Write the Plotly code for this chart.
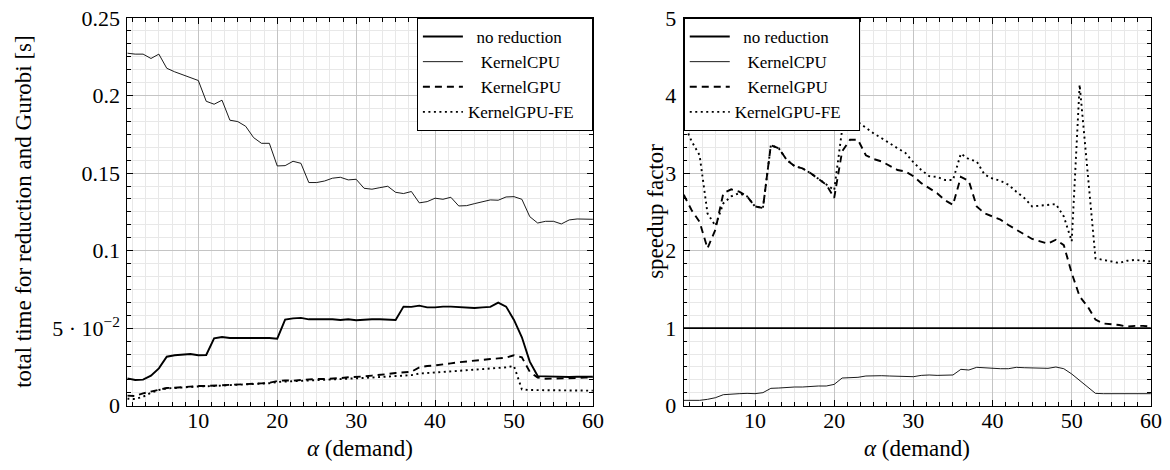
import plotly.graph_objects as go

# ---------------- data ----------------
alpha = list(range(1, 61))

time_no_reduction = [0.0176, 0.0166, 0.0168, 0.0194, 0.0241, 0.0316, 0.0325, 0.0331, 0.0333, 0.0325,
                     0.0327, 0.0434, 0.0443, 0.0437, 0.0437, 0.0434, 0.0437, 0.0437, 0.0437, 0.0432,
                     0.0555, 0.0563, 0.0566, 0.0557, 0.0557, 0.0559, 0.0557, 0.0553, 0.0557, 0.0551,
                     0.0555, 0.0557, 0.0557, 0.0557, 0.0553, 0.0639, 0.0637, 0.0645, 0.0634, 0.0634,
                     0.0639, 0.0639, 0.0637, 0.0632, 0.0630, 0.0634, 0.0637, 0.0665, 0.0639, 0.0553,
                     0.0441, 0.0284, 0.0191, 0.0189, 0.0187, 0.0183, 0.0185, 0.0187, 0.0187, 0.0187]

time_kernel_cpu = [0.2273, 0.2267, 0.2267, 0.2239, 0.2267, 0.2176, 0.2153, 0.2135, 0.2118, 0.2097,
                   0.1963, 0.1944, 0.1970, 0.1841, 0.1832, 0.1802, 0.1729, 0.1692, 0.1692, 0.1546,
                   0.1548, 0.1576, 0.1563, 0.1439, 0.1439, 0.1449, 0.1467, 0.1473, 0.1456, 0.1460,
                   0.1402, 0.1396, 0.1406, 0.1415, 0.1376, 0.1368, 0.1381, 0.1308, 0.1316, 0.1338,
                   0.1331, 0.1344, 0.1288, 0.1290, 0.1303, 0.1316, 0.1327, 0.1325, 0.1346, 0.1348,
                   0.1331, 0.1219, 0.1178, 0.1189, 0.1189, 0.1172, 0.1198, 0.1204, 0.1204, 0.1202]

time_kernel_gpu = [0.0065, 0.0062, 0.0080, 0.0092, 0.0105, 0.0114, 0.0116, 0.0120, 0.0123, 0.0127,
                   0.0127, 0.0129, 0.0133, 0.0135, 0.0138, 0.0140, 0.0142, 0.0144, 0.0148, 0.0159,
                   0.0163, 0.0161, 0.0166, 0.0170, 0.0172, 0.0172, 0.0174, 0.0178, 0.0183, 0.0185,
                   0.0189, 0.0194, 0.0198, 0.0204, 0.0211, 0.0215, 0.0219, 0.0247, 0.0256, 0.0260,
                   0.0265, 0.0273, 0.0280, 0.0286, 0.0292, 0.0297, 0.0301, 0.0305, 0.0310, 0.0325,
                   0.0312, 0.0219, 0.0181, 0.0174, 0.0174, 0.0174, 0.0176, 0.0178, 0.0181, 0.0183]

time_kernel_gpu_fe = [0.0045, 0.0043, 0.0058, 0.0084, 0.0101, 0.0112, 0.0114, 0.0118, 0.0121, 0.0124,
                      0.0125, 0.0127, 0.0130, 0.0132, 0.0135, 0.0137, 0.0139, 0.0141, 0.0145, 0.0153,
                      0.0155, 0.0157, 0.0160, 0.0162, 0.0165, 0.0167, 0.0169, 0.0172, 0.0174, 0.0176,
                      0.0179, 0.0182, 0.0185, 0.0188, 0.0191, 0.0194, 0.0197, 0.0207, 0.0210, 0.0213,
                      0.0216, 0.0220, 0.0224, 0.0228, 0.0232, 0.0236, 0.0240, 0.0243, 0.0247, 0.0256,
                      0.0105, 0.0101, 0.0100, 0.0099, 0.0099, 0.0098, 0.0098, 0.0097, 0.0097, 0.0097]

speedup_no_reduction = [1.0] * 60

speedup_kernel_cpu = [0.069, 0.069, 0.069, 0.082, 0.103, 0.142, 0.151, 0.155, 0.159, 0.155,
                      0.168, 0.224, 0.228, 0.237, 0.241, 0.241, 0.249, 0.254, 0.254, 0.275,
                      0.357, 0.357, 0.366, 0.383, 0.387, 0.387, 0.383, 0.378, 0.378, 0.374,
                      0.391, 0.396, 0.391, 0.391, 0.396, 0.469, 0.460, 0.495, 0.486, 0.477,
                      0.477, 0.477, 0.495, 0.490, 0.486, 0.482, 0.482, 0.499, 0.477, 0.409,
                      0.323, 0.241, 0.159, 0.155, 0.155, 0.155, 0.155, 0.155, 0.155, 0.155]

speedup_kernel_gpu = [2.72, 2.52, 2.37, 2.03, 2.27, 2.74, 2.79, 2.76, 2.70, 2.57,
                      2.55, 3.36, 3.32, 3.17, 3.09, 3.06, 3.00, 2.93, 2.85, 2.68,
                      3.28, 3.43, 3.43, 3.23, 3.18, 3.15, 3.09, 3.04, 3.02, 2.96,
                      2.87, 2.80, 2.74, 2.65, 2.59, 2.95, 2.90, 2.57, 2.48, 2.44,
                      2.40, 2.33, 2.27, 2.20, 2.15, 2.12, 2.09, 2.14, 2.07, 1.71,
                      1.41, 1.28, 1.11, 1.06, 1.05, 1.04, 1.02, 1.03, 1.03, 1.02]

speedup_kernel_gpu_fe = [3.64, 3.41, 3.23, 2.48, 2.32, 2.61, 2.70, 2.74, 2.70, 2.57,
                         2.55, 3.36, 3.32, 3.17, 3.09, 3.06, 3.00, 2.93, 2.85, 2.78,
                         3.56, 3.69, 3.66, 3.58, 3.51, 3.45, 3.38, 3.32, 3.26, 3.14,
                         3.04, 2.96, 2.95, 2.91, 2.91, 3.25, 3.18, 3.15, 2.98, 2.93,
                         2.90, 2.85, 2.76, 2.68, 2.57, 2.58, 2.59, 2.60, 2.44, 2.12,
                         4.14, 3.04, 1.90, 1.88, 1.86, 1.84, 1.87, 1.88, 1.87, 1.86]

series_names = ["no reduction", "KernelCPU", "KernelGPU", "KernelGPU-FE"]
x_tick_values = [10, 20, 30, 40, 50, 60]
left_y_tick_values = [0, 0.05, 0.1, 0.15, 0.2, 0.25]
left_y_tick_labels = ["0", "5 · 10<sup>−2</sup>", "0.1", "0.15", "0.2", "0.25"]
right_y_tick_values = [0, 1, 2, 3, 4, 5]
right_y_tick_labels = ["0", "1", "2", "3", "4", "5"]

# ---------------- styling ----------------
FONT = "Liberation Serif"
W, H = 1170, 470
MAJ = "#c4c4c4"
MIN = "#e8e8e8"


def px(x):                   # pixel -> paper x
    return x / W


def py(y):                   # pixel -> paper y
    return 1 - y / H


styles = [
    dict(color="black", width=1.9, dash="solid"),
    dict(color="black", width=0.9, dash="solid"),
    dict(color="black", width=1.9, dash="7px,5px"),
    dict(color="black", width=1.9, dash="2px,3.5px"),
]

# legend labels padded so the text is centred in its column, like the reference
pad = {"no reduction": 2, "KernelCPU": 3, "KernelGPU": 3, "KernelGPU-FE": 0}
TRAIL = 3


def label(n):
    return "\u00a0" * pad[n] + n + "\u00a0" * (pad[n] + TRAIL)


left_px = (127.3, 592.9)
right_px = (683.75, 1150.9)
top_py, bot_py = 18.0, 405.7
ydom = [py(bot_py), py(top_py)]

fig = go.Figure()

left_series = [time_no_reduction, time_kernel_cpu, time_kernel_gpu, time_kernel_gpu_fe]
right_series = [speedup_no_reduction, speedup_kernel_cpu, speedup_kernel_gpu, speedup_kernel_gpu_fe]

for name, ys, st in zip(series_names, left_series, styles):
    fig.add_trace(go.Scatter(x=alpha, y=ys, mode="lines", name=label(name), line=st,
                             xaxis="x", yaxis="y", legend="legend"))
for name, ys, st in zip(series_names, right_series, styles):
    fig.add_trace(go.Scatter(x=alpha, y=ys, mode="lines", name=label(name), line=st,
                             xaxis="x2", yaxis="y2", legend="legend2"))

TICKFONT = dict(family=FONT, size=22, color="black")


def xaxis(dom, anchor):
    return dict(domain=[px(dom[0]), px(dom[1])], anchor=anchor, range=[1, 60],
                tickvals=x_tick_values, ticks="inside", ticklen=6, tickcolor="black", tickwidth=1,
                showline=True, linecolor="black", linewidth=1, mirror="allticks",
                showgrid=True, gridcolor=MAJ, gridwidth=1, zeroline=False,
                tickfont=TICKFONT, ticklabelstandoff=-5, ticklabeloverflow="allow",
                minor=dict(tick0=0, dtick=10 / 6, ticks="inside", ticklen=3.5, tickcolor="black",
                           tickwidth=0.8, showgrid=True, gridcolor=MIN, gridwidth=1),
                automargin=False, fixedrange=True)


def yaxis(anchor, rng, vals, texts, minor_step):
    return dict(domain=ydom, anchor=anchor, range=rng, tickvals=vals, ticktext=texts,
                ticks="inside", ticklen=6, tickcolor="black", tickwidth=1,
                showline=True, linecolor="black", linewidth=1, mirror="allticks",
                showgrid=True, gridcolor=MAJ, gridwidth=1, zeroline=False,
                tickfont=TICKFONT, ticklabelstandoff=2, ticklabeloverflow="allow",
                minor=dict(tick0=0, dtick=minor_step, ticks="inside", ticklen=3.5, tickcolor="black",
                           tickwidth=0.8, showgrid=True, gridcolor=MIN, gridwidth=1),
                automargin=False, fixedrange=True)


legend_common = dict(bgcolor="white", bordercolor="black", borderwidth=1,
                     font=dict(family=FONT, size=17, color="black"),
                     itemwidth=40, tracegroupgap=0, yanchor="top")

fig.update_layout(
    width=W, height=H,
    margin=dict(l=0, r=0, t=0, b=0),
    font=dict(family=FONT, size=22, color="black"),
    paper_bgcolor="white", plot_bgcolor="white",
    xaxis=xaxis(left_px, "y"),
    yaxis=yaxis("x", [0, 0.25], left_y_tick_values, left_y_tick_labels, 0.05 / 6),
    xaxis2=xaxis(right_px, "y2"),
    yaxis2=yaxis("x2", [0, 5], right_y_tick_values, right_y_tick_labels, 1 / 6),
    legend=dict(x=px(left_px[1]), xanchor="right", y=ydom[1], **legend_common),
    legend2=dict(x=px(right_px[0]), xanchor="left", y=ydom[1], **legend_common),
    showlegend=True,
)

title_font = dict(family=FONT, size=23, color="black")
ymid = py((top_py + bot_py) / 2)
annotations = [
    dict(text="<i>α</i> (demand)", x=px((left_px[0] + left_px[1]) / 2), y=py(448),
         xref="paper", yref="paper", showarrow=False, font=title_font, xanchor="center", yanchor="middle"),
    dict(text="<i>α</i> (demand)", x=px((right_px[0] + right_px[1]) / 2), y=py(448),
         xref="paper", yref="paper", showarrow=False, font=title_font, xanchor="center", yanchor="middle"),
    dict(text="total time for reduction and Gurobi [s]", x=px(24), y=ymid, textangle=-90,
         xref="paper", yref="paper", showarrow=False, font=title_font, xanchor="center", yanchor="middle"),
    dict(text="speedup factor", x=px(656), y=ymid, textangle=-90,
         xref="paper", yref="paper", showarrow=False, font=title_font, xanchor="center", yanchor="middle"),
]
fig.update_layout(annotations=annotations)

# the page's default 8px body margin would shift the figure; remove it
fig.write_html("out.html", config={"displayModeBar": False},
               post_script="document.body.style.margin='0px';")
